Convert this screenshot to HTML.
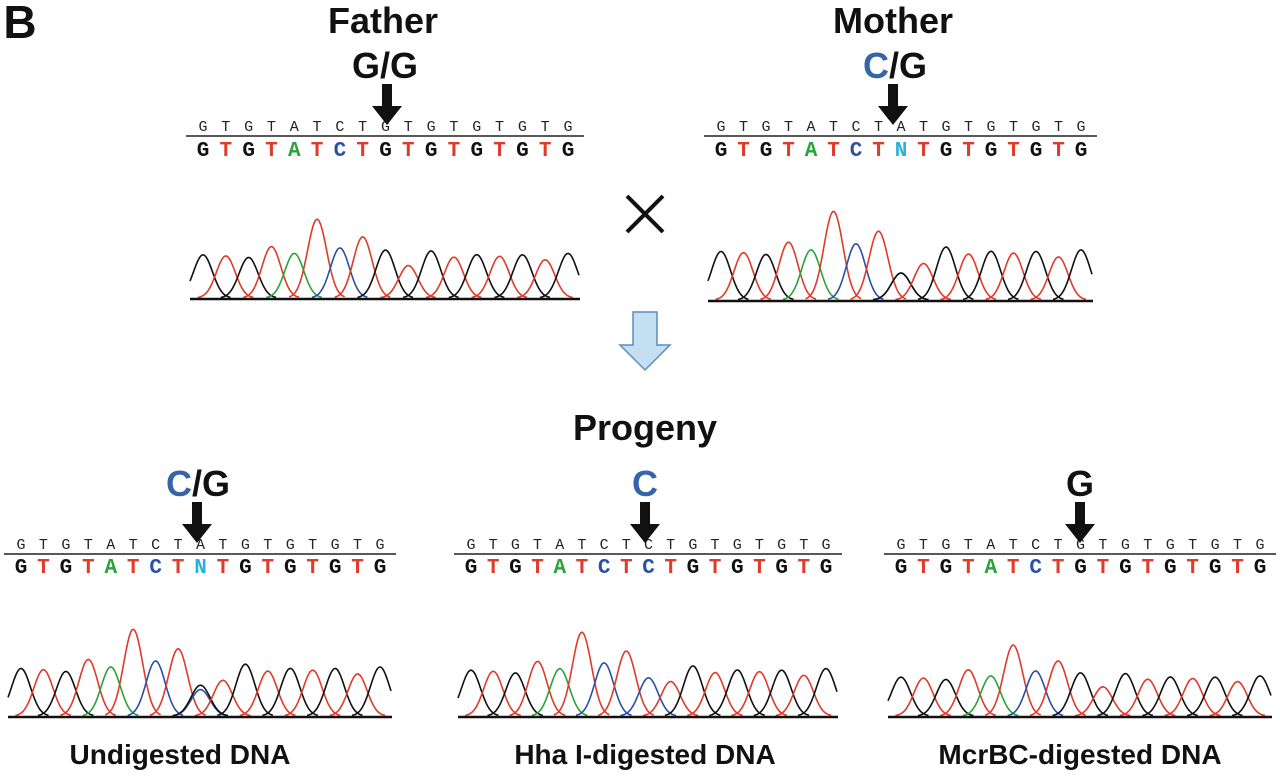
<!DOCTYPE html>
<html><head><meta charset="utf-8">
<style>
html,body{margin:0;padding:0;background:#fff;}
body{width:1280px;height:779px;overflow:hidden;position:relative;font-family:"Liberation Sans",sans-serif;}
svg{position:absolute;left:0;top:0;}
</style></head>
<body>
<svg id="s" width="1280" height="779" viewBox="0 0 1280 779" xmlns="http://www.w3.org/2000/svg">
<g font-family="Liberation Sans, sans-serif" font-weight="bold" fill="#111" text-anchor="middle">
<text x="20" y="38" font-size="46" text-anchor="middle">B</text>
<text x="383" y="33" font-size="36">Father</text>
<text x="385" y="78" font-size="36">G/G</text>
<text x="893" y="33" font-size="36">Mother</text>
<text x="895" y="78" font-size="36"><tspan fill="#3565a8">C</tspan>/G</text>
<text x="645" y="440" font-size="36">Progeny</text>
<text x="198" y="496" font-size="36"><tspan fill="#3565a8">C</tspan>/G</text>
<text x="645" y="496" font-size="36" fill="#3565a8">C</text>
<text x="1080" y="496" font-size="36">G</text>
<text x="180" y="764" font-size="28">Undigested DNA</text>
<text x="645" y="764" font-size="28">Hha I-digested DNA</text>
<text x="1080" y="764" font-size="28">McrBC-digested DNA</text>
</g>
<g stroke="#111" stroke-width="4"><line x1="627" y1="196" x2="663" y2="232"/><line x1="663" y1="196" x2="627" y2="232"/></g>
<path d="M633,312 H657 V345 H670 L645,370 L620,345 H633 Z" fill="#c5dff2" stroke="#5a8db8" stroke-width="1.5"/>
<g id="panels"></g>
</svg>
<script>
var g=document.getElementById('panels');var ns='http://www.w3.org/2000/svg';
function el(t,a,txt){var e=document.createElementNS(ns,t);for(var k in a)e.setAttribute(k,a[k]);if(txt)e.textContent=txt;g.appendChild(e);return e;}
var col={G:'#111',T:'#e03a2a',A:'#2aa33a',C:'#2a4fa8',N:'#2ab0e0'};
var seq='GTGTATCTXTGTGTGTG';
var hb=[0.6,0.55,0.5,0.6,0.6,1.0,0.6,0.85,0,0.4,0.55,0.55,0.55,0.5,0.6,0.5,0.55];
var P=[
{x0:190,x1:580,ty:131,ly:136,by:156,cb:298,sc:80,ax:387,ay:84,top:'G',bot:'G',pk:[['G',0.6]]},
{x0:708,x1:1093,ty:131,ly:136,by:156,cb:300,sc:90,ax:893,ay:84,top:'A',bot:'N',pk:[['C',0.3],['G',0.3]]},
{x0:8,x1:392,ty:549,ly:554,by:573,cb:716,sc:88,ax:197,ay:502,top:'A',bot:'N',pk:[['C',0.3],['G',0.35]]},
{x0:458,x1:838,ty:549,ly:554,by:573,cb:716,sc:85,ax:645,ay:502,top:'C',bot:'C',pk:[['C',0.45]]},
{x0:888,x1:1272,ty:549,ly:554,by:573,cb:716,sc:72,ax:1080,ay:502,top:'G',bot:'G',pk:[['G',0.6]]}];
P.forEach(function(p){
 var w=p.x1-p.x0,st=(w-25)/16;
 el('line',{x1:p.x0-4,y1:p.ly,x2:p.x1+4,y2:p.ly,stroke:'#222','stroke-width':1.5});
 for(var i=0;i<17;i++){var x=p.x0+13+i*st;var c=seq[i]=='X'?p.top:seq[i];
  el('text',{x:x,y:p.ty,'font-size':15,'font-family':'Liberation Mono, monospace',fill:'#222','text-anchor':'middle'},c);
  var b=seq[i]=='X'?p.bot:seq[i];
  el('text',{x:x,y:p.by,'font-size':21,'font-weight':'bold','font-family':'Liberation Mono, monospace',fill:col[b],'text-anchor':'middle'},b);}
 el('path',{d:'M'+(p.ax-5)+','+p.ay+' h10 v22 h10 l-15,19 l-15,-19 h10 z',fill:'#111'});
 var peaks=[];for(var i=0;i<17;i++){var x=p.x0+13+i*st;if(seq[i]=='X'){p.pk.forEach(function(q){peaks.push([x,q[0],q[1]]);});}else peaks.push([x,seq[i],hb[i]*(0.9+0.2*((i*37)%7)/7)]);}
 peaks.forEach(function(q){var d='',s=9.5;for(var x=Math.max(p.x0,q[0]-28);x<=Math.min(p.x1,q[0]+28);x+=1.5){var y=p.cb-q[2]*p.sc*Math.exp(-Math.pow(x-q[0],2)/(2*s*s));d+=(d?'L':'M')+x.toFixed(1)+','+y.toFixed(1);}
  el('path',{d:d,fill:'none',stroke:col[q[1]],'stroke-width':1.6});});
 el('line',{x1:p.x0,y1:p.cb+1,x2:p.x1,y2:p.cb+1,stroke:'#111','stroke-width':2.5});
});
</script>
</body></html>
